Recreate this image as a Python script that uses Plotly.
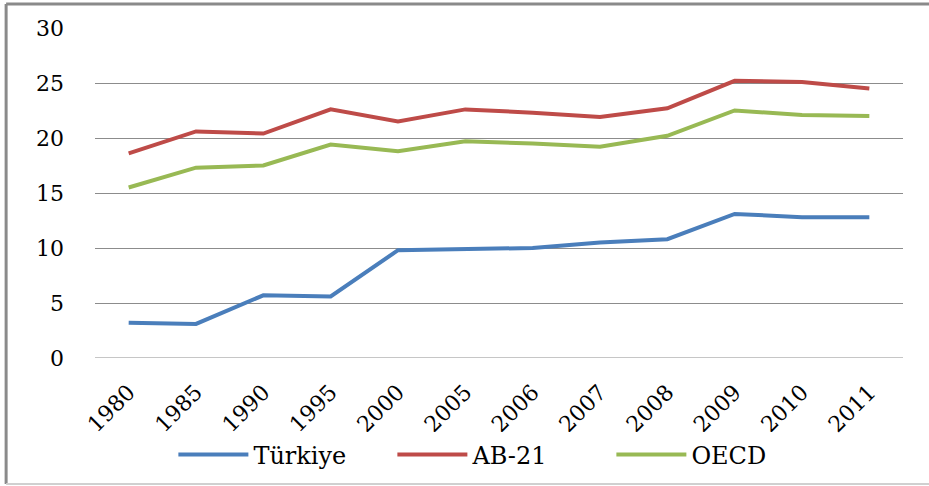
import plotly.graph_objects as go

years = ["1980", "1985", "1990", "1995", "2000", "2005", "2006", "2007", "2008", "2009", "2010", "2011"]
turkiye = [3.2, 3.1, 5.7, 5.6, 9.8, 9.9, 10.0, 10.5, 10.8, 13.1, 12.8, 12.8]
ab21 = [18.6, 20.6, 20.4, 22.6, 21.5, 22.6, 22.3, 21.9, 22.7, 25.2, 25.1, 24.5]
oecd = [15.5, 17.3, 17.5, 19.4, 18.8, 19.7, 19.5, 19.2, 20.2, 22.5, 22.1, 22.0]

series = [("Türkiye", turkiye, "#4A7EBB"), ("AB-21", ab21, "#BE4B48"), ("OECD", oecd, "#98B954")]

fig = go.Figure()
for name, vals, col in series:
    fig.add_trace(go.Scatter(x=years, y=vals, name=name, mode="lines",
                             line=dict(color=col, width=4)))

font = "DejaVu Serif"
fig.update_layout(
    width=929, height=486,
    margin=dict(l=95, r=26, t=28, b=128),
    paper_bgcolor="white", plot_bgcolor="white",
    font=dict(family=font, size=22, color="black"),
    showlegend=True,
    legend=dict(orientation="h", x=0.097, xanchor="left", yref="container", y=0.064,
                yanchor="middle", font=dict(family=font, size=24), itemwidth=70,
                entrywidth=134, entrywidthmode="pixels"),
    xaxis=dict(type="category", range=[-0.5, 11.5], showgrid=False, tickangle=-45, ticks="",
               showline=False, zeroline=False, automargin=False, ticklabelstandoff=16,
               tickfont=dict(family=font, size=22)),
    yaxis=dict(range=[0, 30], dtick=5, showgrid=True, gridcolor="#8C8C8C", gridwidth=1,
               zeroline=False, showline=False, ticks="", ticklabelstandoff=30, automargin=False,
               tickfont=dict(family=font, size=22)),
    shapes=[
        dict(type="line", xref="paper", yref="paper", x0=-0.110, x1=-0.110, y0=-0.382, y1=1.073,
             line=dict(color="#8A8A8A", width=3), layer="below"),
        dict(type="line", xref="paper", yref="paper", x0=-0.110, x1=1.05, y0=1.073, y1=1.073,
             line=dict(color="#8A8A8A", width=3), layer="below"),
        dict(type="line", xref="paper", yref="paper", x0=-0.110, x1=1.05, y0=-0.382, y1=-0.382,
             line=dict(color="#D0D0D0", width=2), layer="below"),
    ],
)
fig.add_hline(y=0, line=dict(color="#8C8C8C", width=1), layer="below")

fig.write_html("out.html", config={"displayModeBar": False},
               post_script="document.body.style.margin='0';")
